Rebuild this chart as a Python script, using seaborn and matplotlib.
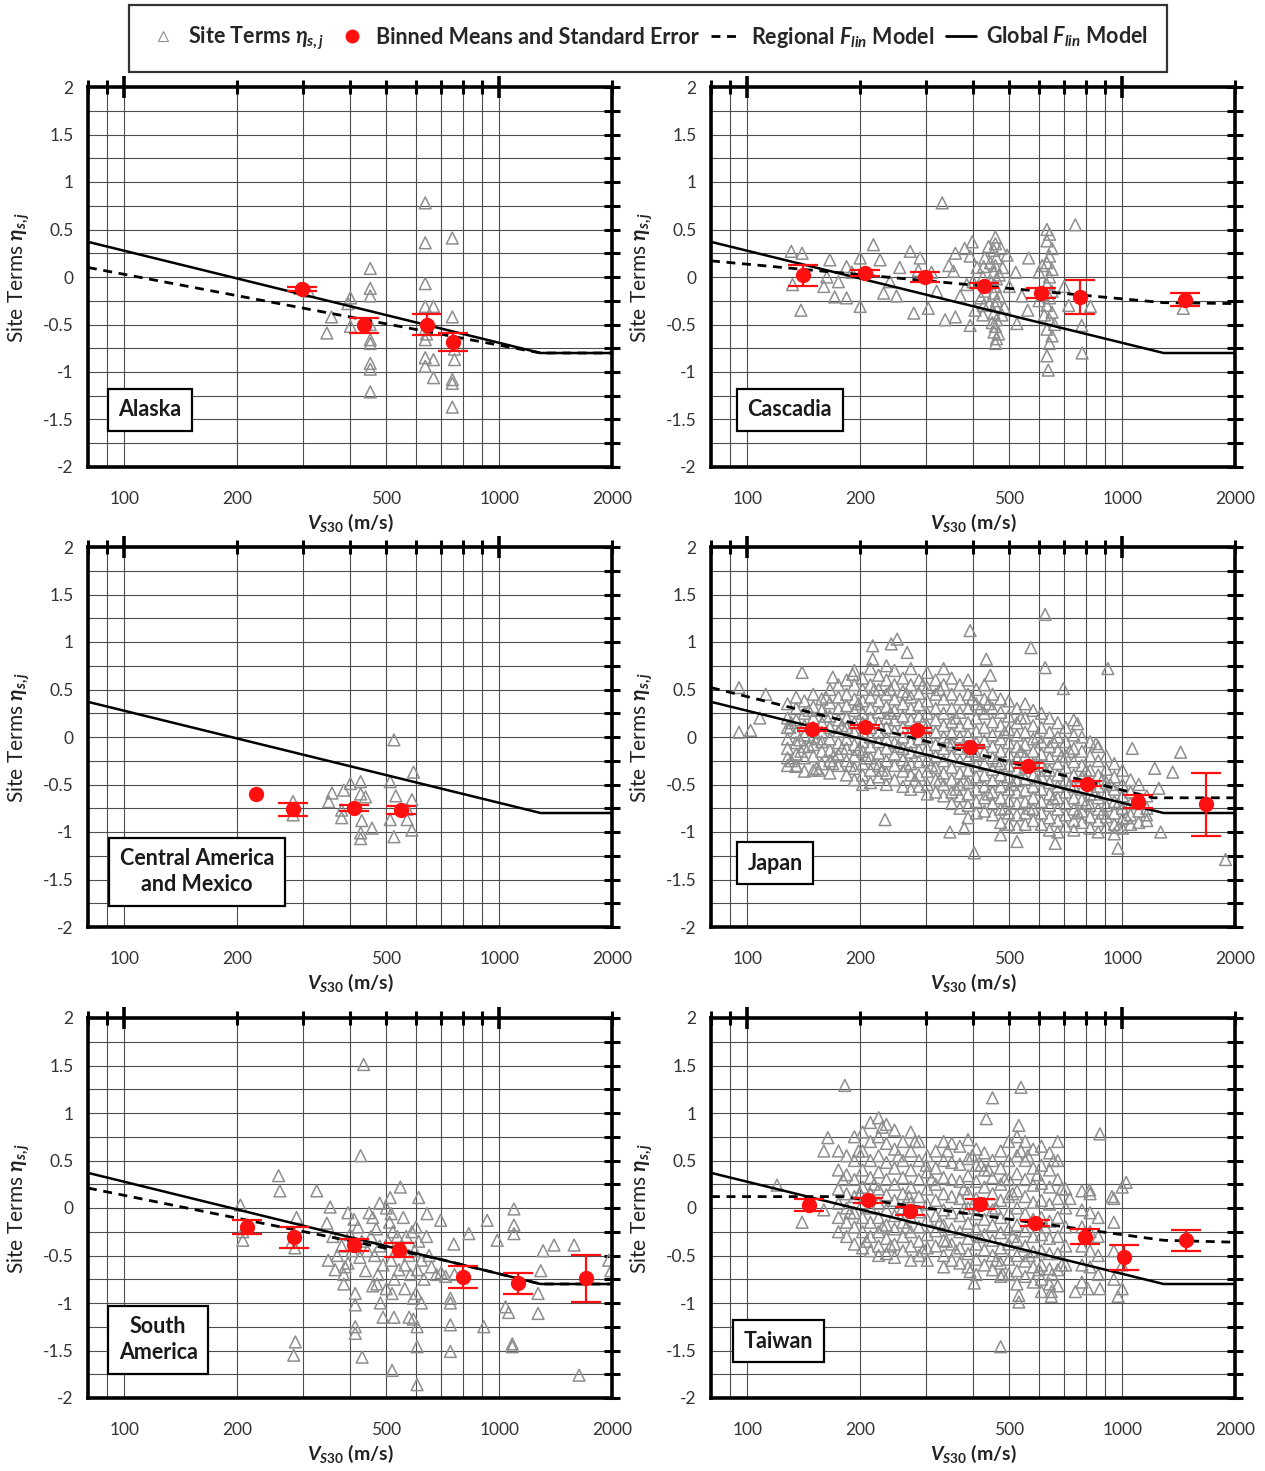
import numpy as np
import pandas as pd
import matplotlib
matplotlib.use("Agg")
import matplotlib.pyplot as plt
import seaborn as sns
from matplotlib.lines import Line2D

sns.set_theme(style="white")
plt.rcParams["font.family"] = ["Lato", "DejaVu Sans"]
plt.rcParams["mathtext.fontset"] = "custom"
plt.rcParams["mathtext.rm"] = "Lato:bold"
plt.rcParams["mathtext.it"] = "Lato:bold:italic"
plt.rcParams["mathtext.bf"] = "Lato:bold"
plt.rcParams["mathtext.fallback"] = "stixsans"
plt.rcParams["axes.unicode_minus"] = False

# ---------------------------------------------------------------- models
global_vs30 = [80, 1290, 2000]
global_flin = [0.37, -0.80, -0.80]

alaska_reg_vs30 = [80, 1290, 2000]
alaska_reg_flin = [0.10, -0.80, -0.80]
cascadia_reg_vs30 = [80, 1290, 2000]
cascadia_reg_flin = [0.17, -0.27, -0.28]
japan_reg_vs30 = [80, 1210, 2000]
japan_reg_flin = [0.52, -0.64, -0.64]
samerica_reg_vs30 = [80, 680, 1290, 2000]
samerica_reg_flin = [0.21, -0.53, -0.80, -0.80]
taiwan_reg_vs30 = [80, 180, 1290, 2000]
taiwan_reg_flin = [0.12, 0.12, -0.34, -0.36]

# ---------------------------------------------------------- binned means
alaska_bin_v = [298, 435, 641, 753]
alaska_bin_mean = [-0.13, -0.51, -0.50, -0.68]
alaska_bin_se = [0.02, 0.075, 0.115, 0.095]

cascadia_bin_v = [141, 206, 298, 427, 606, 771, 1470]
cascadia_bin_mean = [0.02, 0.04, 0.00, -0.09, -0.17, -0.21, -0.24]
cascadia_bin_se = [0.11, 0.03, 0.055, 0.03, 0.05, 0.18, 0.07]

camex_bin_v = [224, 281, 409, 546]
camex_bin_mean = [-0.60, -0.76, -0.75, -0.77]
camex_bin_se = [np.nan, 0.07, 0.03, 0.04]

japan_bin_v = [149, 206, 283, 392, 560, 805, 1105, 1676]
japan_bin_mean = [0.08, 0.11, 0.07, -0.10, -0.30, -0.49, -0.68, -0.71]
japan_bin_se = [0.02, 0.02, 0.025, 0.02, 0.025, 0.025, 0.065, 0.33]

samerica_bin_v = [213, 283, 409, 539, 800, 1122, 1708]
samerica_bin_mean = [-0.20, -0.31, -0.39, -0.44, -0.73, -0.79, -0.74]
samerica_bin_se = [0.075, 0.11, 0.06, 0.075, 0.115, 0.11, 0.25]

taiwan_bin_v = [146, 210, 272, 418, 587, 798, 1010, 1476]
taiwan_bin_mean = [0.03, 0.08, -0.03, 0.04, -0.16, -0.30, -0.52, -0.34]
taiwan_bin_se = [0.06, 0.03, 0.04, 0.05, 0.03, 0.08, 0.13, 0.11]

# ------------------------------------------------------------ site terms
alaska_sites = [(635, 0.78), (750, 0.41), (635, 0.36), (453, 0.09), (635, -0.07),
                (453, -0.12), (453, -0.20), (401, -0.22), (635, -0.31), (668, -0.31),
                (750, -0.42), (357, -0.42), (347, -0.59), (401, -0.52), (453, -0.66),
                (453, -0.70), (635, -0.66), (760, -0.76), (760, -0.87), (635, -0.85),
                (668, -0.87), (635, -0.94), (453, -0.91), (453, -0.97), (668, -1.06),
                (750, -1.08), (750, -1.12), (453, -1.21), (750, -1.37), (294, -0.12),
                (310, -0.15), (395, -0.28), (453, -0.50), (635, -0.55), (640, -0.60)]

cascadia_sites = [(131, 0.27), (140, 0.25), (132, -0.08), (139, -0.35), (166, 0.18),
                  (163, 0.00), (171, -0.21), (184, -0.22), (184, 0.11), (200, 0.20),
                  (217, 0.34), (226, 0.18), (231, -0.17), (200, -0.31), (272, 0.27),
                  (289, 0.20), (286, 0.07), (278, -0.38), (304, -0.33), (331, 0.78),
                  (359, 0.25), (355, 0.06), (359, -0.42), (337, -0.45), (398, 0.37),
                  (393, 0.22), (393, -0.51), (385, -0.08), (459, 0.42), (459, 0.35),
                  (455, 0.28), (462, 0.20), (459, 0.12), (455, 0.05), (462, -0.02),
                  (459, -0.10), (455, -0.17), (462, -0.25), (459, -0.30), (455, -0.38),
                  (462, -0.45), (459, -0.52), (455, -0.58), (462, -0.65), (459, -0.70),
                  (427, 0.11), (430, 0.20), (425, 0.00), (430, -0.15), (427, -0.30),
                  (425, -0.40), (420, -0.22), (493, 0.23), (485, -0.32), (524, -0.49),
                  (563, 0.20), (630, 0.50), (640, 0.45), (630, 0.38), (650, 0.30),
                  (640, 0.22), (630, 0.15), (650, 0.08), (640, 0.00), (630, -0.08),
                  (650, -0.15), (640, -0.22), (630, -0.30), (650, -0.37), (640, -0.45),
                  (630, -0.55), (650, -0.62), (640, -0.70), (630, -0.83), (635, -0.98),
                  (750, 0.55), (782, -0.80), (823, -0.31), (780, -0.51), (1455, -0.33),
                  (160, -0.10), (175, -0.05), (190, 0.05), (240, -0.05), (255, 0.10),
                  (250, -0.20), (310, 0.05), (320, -0.15), (345, 0.12), (370, -0.20),
                  (380, 0.30), (410, 0.10), (500, -0.10), (520, 0.05), (540, -0.20),
                  (560, -0.35), (600, 0.05), (600, -0.25), (700, -0.10), (720, -0.30),
                  (475, 0.30), (480, 0.10), (470, -0.20), (478, -0.40), (405, -0.35),
                  (400, -0.05), (445, 0.15), (448, -0.05), (442, -0.28), (450, -0.48),
                  (468, -0.60), (470, 0.02), (440, 0.32), (612, 0.12), (615, -0.18),
                  (620, -0.40), (660, -0.50)]

camex_sites = [(524, -0.03), (591, -0.37), (585, -0.66), (358, -0.59), (385, -0.56),
               (427, -0.47), (427, -0.60), (401, -0.49), (380, -0.77), (380, -0.85),
               (427, -1.01), (458, -0.96), (427, -1.07), (512, -0.47), (512, -0.87),
               (524, -1.05), (568, -0.87), (585, -0.98), (530, -0.62), (568, -0.76),
               (430, -0.88), (440, -0.63), (351, -0.68), (282, -0.68), (282, -0.82)]

samerica_sites = [(435, 1.51), (427, 0.55), (258, 0.34), (260, 0.18), (326, 0.18),
                  (354, 0.01), (204, 0.03), (288, -0.10), (347, -0.16), (207, -0.25),
                  (207, -0.34), (280, -0.36), (285, -0.42), (545, 0.22), (610, 0.11),
                  (642, -0.06), (698, -0.13), (512, 0.11), (515, -0.06), (757, -0.38),
                  (830, -0.27), (929, -0.13), (988, -0.34), (1095, -0.01), (1095, -0.18),
                  (1095, -0.27), (1401, -0.39), (1585, -0.39), (1310, -0.45), (1291, -0.66),
                  (1270, -0.90), (1270, -1.11), (1986, -0.66), (1960, -0.55), (1634, -1.76),
                  (1084, -1.43), (1084, -1.46), (741, -1.00), (741, -0.95), (741, -1.23),
                  (741, -1.51), (910, -1.25), (1040, -1.04), (1060, -1.10), (286, -1.41),
                  (283, -1.55), (413, -1.25), (413, -1.32), (431, -1.57), (518, -1.71),
                  (604, -1.86), (604, -1.46), (604, -1.25), (590, -1.17), (575, -1.15),
                  (524, -1.15), (490, -1.15), (482, -1.00), (518, -0.90), (472, -0.80),
                  (385, -0.80), (413, -0.90), (413, -1.02), (385, -0.70), (388, -0.62),
                  (395, -0.05), (410, -0.12), (420, -0.20), (400, -0.28), (430, -0.35),
                  (405, -0.45), (425, -0.52), (395, -0.58), (440, -0.66), (460, -0.10),
                  (470, -0.22), (455, -0.30), (480, -0.40), (465, -0.50), (490, -0.60),
                  (475, -0.70), (500, 0.00), (510, -0.15), (520, -0.25), (505, -0.35),
                  (530, -0.45), (515, -0.55), (540, -0.65), (525, -0.75), (555, -0.10),
                  (565, -0.30), (550, -0.40), (575, -0.50), (560, -0.60), (580, -0.70),
                  (600, -0.20), (610, -0.35), (595, -0.45), (620, -0.55), (605, -0.65),
                  (630, -0.75), (640, -0.30), (650, -0.50), (660, -0.62), (680, -0.70),
                  (700, -0.68), (720, -0.72), (760, -0.70), (600, -0.90), (560, -0.85),
                  (620, -1.00), (590, -0.95), (460, -0.82), (500, -0.85), (370, -0.50),
                  (380, -0.40), (360, -0.30), (365, -0.65), (350, -0.55), (450, -0.05),
                  (480, 0.05), (415, -0.40), (445, -0.45), (535, -0.30), (585, -0.25)]

japan_col_v = [128, 135, 142, 150, 158, 166, 175, 184, 193, 203, 213, 224, 235, 247, 260,
               273, 287, 302, 318, 334, 351, 369, 388, 408, 429, 451, 474, 498, 524, 551,
               579, 609, 640, 673, 707, 743, 781, 821, 863, 907, 953, 1002, 1053, 1107, 1163]
japan_col_eta = [
    [0.35, 0.2, 0.1, -0.02, -0.12, -0.22, -0.3],
    [0.42, 0.3, 0.18, 0.05, -0.06, -0.18, -0.3],
    [0.38, 0.25, 0.12, 0.02, -0.1, -0.22, -0.36],
    [0.45, 0.32, 0.2, 0.1, 0.0, -0.08, -0.2, -0.35],
    [0.4, 0.28, 0.15, 0.05, -0.05, -0.15, -0.28],
    [0.5, 0.36, 0.22, 0.1, -0.02, -0.14, -0.25, -0.38],
    [0.55, 0.42, 0.3, 0.18, 0.06, -0.06, -0.18, -0.3],
    [0.6, 0.45, 0.33, 0.2, 0.1, -0.02, -0.12, -0.25, -0.4],
    [0.7, 0.55, 0.4, 0.28, 0.15, 0.05, -0.08, -0.2, -0.33, -0.45],
    [0.62, 0.5, 0.38, 0.25, 0.15, 0.05, -0.05, -0.15, -0.28, -0.4, -0.5],
    [0.72, 0.55, 0.42, 0.3, 0.2, 0.1, 0.0, -0.1, -0.22, -0.35, -0.48],
    [0.65, 0.5, 0.38, 0.26, 0.15, 0.05, -0.05, -0.17, -0.3, -0.42],
    [0.75, 0.6, 0.45, 0.32, 0.2, 0.1, -0.02, -0.12, -0.25, -0.38, -0.5],
    [0.7, 0.55, 0.4, 0.28, 0.18, 0.06, -0.06, -0.18, -0.3, -0.45],
    [0.62, 0.48, 0.35, 0.22, 0.1, 0.0, -0.12, -0.24, -0.36, -0.52],
    [0.72, 0.55, 0.42, 0.3, 0.18, 0.06, -0.05, -0.16, -0.28, -0.4, -0.55],
    [0.6, 0.46, 0.34, 0.22, 0.1, -0.02, -0.14, -0.26, -0.4, -0.52],
    [0.68, 0.52, 0.38, 0.25, 0.12, 0.0, -0.12, -0.24, -0.36, -0.5, -0.6],
    [0.6, 0.45, 0.3, 0.18, 0.05, -0.08, -0.2, -0.32, -0.45, -0.58],
    [0.72, 0.55, 0.4, 0.25, 0.12, 0.0, -0.12, -0.25, -0.38, -0.5, -0.62],
    [0.62, 0.45, 0.3, 0.16, 0.04, -0.08, -0.2, -0.32, -0.45, -0.58, -0.7],
    [0.55, 0.4, 0.26, 0.12, 0.0, -0.12, -0.25, -0.38, -0.5, -0.62, -0.75],
    [0.6, 0.45, 0.3, 0.15, 0.02, -0.1, -0.22, -0.35, -0.48, -0.6, -0.72, -0.85],
    [0.5, 0.35, 0.2, 0.06, -0.06, -0.18, -0.3, -0.42, -0.55, -0.68, -0.8],
    [0.55, 0.4, 0.25, 0.1, -0.04, -0.16, -0.28, -0.4, -0.52, -0.64, -0.78],
    [0.45, 0.3, 0.16, 0.02, -0.1, -0.22, -0.34, -0.46, -0.58, -0.7, -0.82],
    [0.4, 0.26, 0.12, -0.02, -0.15, -0.28, -0.4, -0.52, -0.64, -0.76, -0.9],
    [0.38, 0.22, 0.08, -0.06, -0.18, -0.3, -0.42, -0.55, -0.67, -0.8, -0.92],
    [0.3, 0.15, 0.02, -0.1, -0.22, -0.34, -0.46, -0.58, -0.7, -0.82, -0.95],
    [0.35, 0.2, 0.05, -0.08, -0.2, -0.32, -0.44, -0.56, -0.68, -0.8, -0.92],
    [0.28, 0.12, -0.02, -0.15, -0.28, -0.4, -0.52, -0.64, -0.76, -0.88],
    [0.25, 0.1, -0.05, -0.18, -0.3, -0.42, -0.55, -0.68, -0.8, -0.92],
    [0.2, 0.05, -0.1, -0.22, -0.35, -0.48, -0.6, -0.72, -0.85, -0.98],
    [0.15, 0.0, -0.14, -0.28, -0.4, -0.52, -0.64, -0.76, -0.88, -1.0],
    [0.1, -0.05, -0.2, -0.32, -0.45, -0.58, -0.7, -0.82, -0.94],
    [0.18, 0.02, -0.12, -0.26, -0.4, -0.52, -0.64, -0.76, -0.88, -0.98],
    [0.0, -0.15, -0.3, -0.42, -0.55, -0.66, -0.78, -0.9],
    [-0.05, -0.2, -0.35, -0.48, -0.6, -0.72, -0.84, -0.96],
    [-0.1, -0.25, -0.4, -0.52, -0.64, -0.76, -0.88, -1.0],
    [-0.2, -0.34, -0.48, -0.6, -0.72, -0.84, -0.95],
    [-0.28, -0.42, -0.55, -0.68, -0.8, -0.92, -1.02],
    [-0.35, -0.5, -0.62, -0.75, -0.86, -0.96],
    [-0.45, -0.58, -0.7, -0.82, -0.92],
    [-0.5, -0.65, -0.78, -0.9],
    [-0.62, -0.75, -0.88],
]
japan_sites = [(95, 0.52), (95, 0.05), (102, 0.07), (112, 0.45), (108, 0.20), (140, 0.68),
               (169, 0.63), (191, 0.66), (216, 0.96), (242, 0.98), (251, 1.03), (267, 0.89),
               (216, 0.82), (393, 1.12), (434, 0.82), (445, 0.65), (571, 0.94), (623, 1.29),
               (623, 0.73), (697, 0.51), (916, 0.72), (1064, -0.12), (1221, -0.33),
               (1364, -0.37), (1432, -0.16), (1253, -0.54), (1267, -1.00), (1161, -0.82),
               (1887, -1.29), (975, -1.17), (663, -1.12), (524, -1.10), (403, -1.22),
               (379, -0.96), (347, -1.00), (233, -0.87), (135, -0.31), (153, -0.33),
               (155, -0.35), (169, -0.28), (138, -0.03), (130, 0.10), (851, -0.07),
               (760, 0.14), (474, -1.03),
               (131, 0.15), (139, -0.15), (146, 0.28), (154, -0.02), (162, 0.22),
               (170, -0.20), (179, 0.12), (188, -0.30), (198, 0.35), (208, -0.22),
               (218, 0.50), (229, -0.35), (241, 0.25), (253, -0.10), (266, 0.45),
               (280, -0.45), (294, 0.15), (310, -0.30), (326, 0.50), (342, -0.05),
               (360, 0.20), (378, -0.45), (398, -0.15), (418, 0.30), (440, -0.60),
               (462, -0.25), (486, 0.05), (511, -0.50), (537, -0.15), (565, -0.75),
               (594, 0.00), (624, -0.35), (656, -0.65), (690, -0.20), (725, -0.50),
               (762, -0.80), (801, -0.35), (842, -0.60), (885, -0.80), (930, -0.50),
               (977, -0.70), (1027, -0.85), (1080, -0.70), (131, -0.25), (146, -0.10),
               (162, 0.42), (179, -0.12), (198, -0.13), (218, -0.28), (241, 0.50),
               (266, -0.30), (294, 0.55), (326, -0.45), (360, -0.55), (398, 0.40),
               (440, 0.35), (486, -0.75), (537, 0.20), (594, -0.45), (656, -0.05),
               (725, -0.15), (801, -0.70), (885, -0.45), (977, -0.95)]

taiwan_col_v = [175, 184, 193, 203, 213, 224, 235, 247, 260, 273, 287, 302, 318, 334, 351,
                369, 388, 408, 429, 451, 474, 498, 524, 551, 579, 609, 640, 673, 707, 781,
                821, 863, 950, 1000]
taiwan_col_eta = [
    [0.6, 0.4, 0.2, 0.05, -0.1, -0.25],
    [0.55, 0.35, 0.15, 0.0, -0.15, -0.3],
    [0.75, 0.5, 0.3, 0.12, -0.05, -0.2, -0.38],
    [0.8, 0.6, 0.4, 0.22, 0.05, -0.1, -0.25, -0.42],
    [0.9, 0.7, 0.5, 0.32, 0.15, 0.0, -0.15, -0.3, -0.45],
    [0.95, 0.75, 0.55, 0.38, 0.2, 0.05, -0.1, -0.25, -0.4, -0.5],
    [0.88, 0.68, 0.48, 0.3, 0.14, -0.02, -0.18, -0.32, -0.48],
    [0.82, 0.62, 0.42, 0.25, 0.08, -0.08, -0.22, -0.38, -0.52],
    [0.7, 0.5, 0.32, 0.15, 0.0, -0.15, -0.3, -0.45],
    [0.8, 0.6, 0.4, 0.22, 0.05, -0.1, -0.25, -0.4, -0.55],
    [0.7, 0.5, 0.3, 0.12, -0.04, -0.2, -0.35, -0.5],
    [0.55, 0.38, 0.2, 0.04, -0.12, -0.28, -0.42, -0.55],
    [0.6, 0.42, 0.25, 0.08, -0.08, -0.24, -0.4],
    [0.7, 0.5, 0.32, 0.15, -0.02, -0.18, -0.34, -0.5, -0.62],
    [0.68, 0.48, 0.3, 0.12, -0.05, -0.22, -0.38, -0.55],
    [0.65, 0.46, 0.28, 0.1, -0.08, -0.25, -0.42, -0.58],
    [0.72, 0.52, 0.34, 0.16, 0.0, -0.16, -0.32, -0.48, -0.62],
    [0.62, 0.45, 0.28, 0.1, -0.06, -0.22, -0.38, -0.54, -0.7],
    [0.58, 0.4, 0.22, 0.05, -0.12, -0.28, -0.44, -0.6],
    [0.5, 0.32, 0.15, -0.02, -0.18, -0.34, -0.5, -0.65],
    [0.6, 0.42, 0.25, 0.08, -0.1, -0.26, -0.42, -0.58, -0.72],
    [0.7, 0.5, 0.3, 0.12, -0.05, -0.22, -0.38, -0.54, -0.7],
    [0.75, 0.55, 0.36, 0.18, 0.0, -0.18, -0.34, -0.5, -0.66, -0.8],
    [0.7, 0.5, 0.3, 0.12, -0.06, -0.24, -0.4, -0.56, -0.72],
    [0.62, 0.42, 0.24, 0.06, -0.12, -0.3, -0.46, -0.62, -0.78],
    [0.65, 0.45, 0.26, 0.08, -0.1, -0.28, -0.45, -0.6, -0.75, -0.88],
    [0.58, 0.4, 0.22, 0.04, -0.14, -0.32, -0.48, -0.64, -0.8],
    [0.7, 0.5, 0.3, 0.1, -0.1, -0.3, -0.48, -0.65, -0.82],
    [0.2, 0.0, -0.2, -0.4, -0.6],
    [0.18, -0.02, -0.2, -0.4, -0.6, -0.78],
    [0.15, -0.05, -0.25, -0.45, -0.62],
    [-0.1, -0.3, -0.5, -0.7],
    [0.1, -0.15, -0.45, -0.75],
    [0.22, -0.6, -0.85],
]
taiwan_sites = [(182, 1.29), (160, 0.60), (164, 0.74), (140, -0.15), (160, -0.02),
                (120, 0.24), (451, 1.16), (434, 0.94), (537, 1.27), (530, 0.87),
                (872, 0.78), (819, 0.19), (939, 0.12), (1025, 0.27), (474, -1.46),
                (530, -0.99), (530, -0.92), (975, -0.93), (872, -0.85), (810, -0.85),
                (750, -0.88), (647, -0.88), (647, -0.93), (393, -0.67), (403, -0.79),
                (480, -0.70),
                (180, 0.30), (188, -0.05), (198, 0.60), (208, -0.35), (218, 0.25),
                (229, 0.85), (241, -0.40), (253, 0.55), (266, -0.20), (280, 0.70),
                (294, -0.45), (310, 0.30), (326, -0.15), (342, 0.60), (360, -0.45),
                (378, 0.20), (398, 0.55), (418, -0.30), (440, 0.40), (462, -0.55),
                (486, 0.30), (511, -0.30), (537, 0.60), (565, -0.50), (594, 0.35),
                (624, -0.20), (656, 0.50), (690, -0.60), (725, 0.10), (200, 0.15),
                (230, -0.20), (270, 0.12), (300, 0.45), (340, -0.35), (380, 0.00),
                (420, 0.45), (460, 0.00), (510, 0.15), (560, 0.55), (600, -0.65),
                (650, -0.70), (690, 0.20)]

# ------------------------------------------------------------- axis text
x_major_ticks = [100, 1000]
x_major_labels = ["100", "1000"]
x_minor_ticks = [80, 90, 200, 300, 400, 500, 600, 700, 800, 900, 2000]
x_minor_labels = ["", "", "200", "", "", "500", "", "", "", "", "2000"]
y_major_ticks = [2, 1.5, 1, 0.5, 0, -0.5, -1, -1.5, -2]
y_major_labels = ["2", "1.5", "1", "0.5", "0", "-0.5", "-1", "-1.5", "-2"]
y_minor_ticks = [1.75, 1.25, 0.75, 0.25, -0.25, -0.75, -1.25, -1.75]

region_names = ["Alaska", "Cascadia", "Central America\nand Mexico", "Japan",
                "South\nAmerica", "Taiwan"]


def expand_columns(col_v, col_eta, extra):
    v = [vv for vv, etas in zip(col_v, col_eta) for _ in etas]
    e = [ee for etas in col_eta for ee in etas]
    v += [p[0] for p in extra]
    e += [p[1] for p in extra]
    return pd.DataFrame({"vs30": v, "eta": e})


def pairs_frame(pairs):
    return pd.DataFrame({"vs30": [p[0] for p in pairs], "eta": [p[1] for p in pairs]})


panels = [
    dict(sites=pairs_frame(alaska_sites), reg=(alaska_reg_vs30, alaska_reg_flin),
         bins=(alaska_bin_v, alaska_bin_mean, alaska_bin_se), label_xy=(0.118, 0.15)),
    dict(sites=pairs_frame(cascadia_sites), reg=(cascadia_reg_vs30, cascadia_reg_flin),
         bins=(cascadia_bin_v, cascadia_bin_mean, cascadia_bin_se), label_xy=(0.15, 0.15)),
    dict(sites=pairs_frame(camex_sites), reg=None,
         bins=(camex_bin_v, camex_bin_mean, camex_bin_se), label_xy=(0.208, 0.145)),
    dict(sites=expand_columns(japan_col_v, japan_col_eta, japan_sites),
         reg=(japan_reg_vs30, japan_reg_flin),
         bins=(japan_bin_v, japan_bin_mean, japan_bin_se), label_xy=(0.122, 0.168)),
    dict(sites=pairs_frame(samerica_sites), reg=(samerica_reg_vs30, samerica_reg_flin),
         bins=(samerica_bin_v, samerica_bin_mean, samerica_bin_se), label_xy=(0.134, 0.153)),
    dict(sites=expand_columns(taiwan_col_v, taiwan_col_eta, taiwan_sites),
         reg=(taiwan_reg_vs30, taiwan_reg_flin),
         bins=(taiwan_bin_v, taiwan_bin_mean, taiwan_bin_se), label_xy=(0.128, 0.15)),
]

W, H = 1265, 1471
fig = plt.figure(figsize=(W / 100, H / 100), dpi=100)

col_left = [88, 711]
ax_w = 524
row_bottom = [467, 927, 1398]
ax_h = 380

tri_color = "#8e8e8e"
dash_style = (0, (3.2, 2.4))

for i, p in enumerate(panels):
    r, c = divmod(i, 2)
    ax = fig.add_axes([col_left[c] / W, 1 - row_bottom[r] / H, ax_w / W, ax_h / H])
    ax.set_xscale("log")

    sns.scatterplot(data=p["sites"], x="vs30", y="eta", ax=ax, marker="^", s=72,
                    facecolor="none", edgecolor=tri_color, linewidth=1.1, zorder=2,
                    legend=False)

    if p["reg"] is not None:
        sns.lineplot(x=p["reg"][0], y=p["reg"][1], ax=ax, color="black", lw=2.0,
                     linestyle=dash_style, estimator=None, sort=False, zorder=3)
    sns.lineplot(x=global_vs30, y=global_flin, ax=ax, color="black", lw=1.8,
                 estimator=None, sort=False, zorder=3)

    bv, bm, bse = p["bins"]
    ax.errorbar(bv, bm, yerr=bse, fmt="o", color="#ff1010", ms=10, elinewidth=1.6,
                capsize=11, capthick=1.6, zorder=5)

    ax.set_xlim(80, 2000)
    ax.set_ylim(-2, 2)
    ax.set_xticks(x_major_ticks, labels=x_major_labels)
    ax.set_xticks(x_minor_ticks, labels=x_minor_labels, minor=True)
    ax.set_yticks(y_major_ticks, labels=y_major_labels)
    ax.set_yticks(y_minor_ticks, minor=True)

    ax.tick_params(axis="both", which="both", direction="inout", top=True, right=True,
                   labelsize=12.5, labelcolor="#333333", color="black")
    ax.tick_params(axis="x", which="major", length=16, width=2.6, pad=9)
    ax.tick_params(axis="x", which="minor", length=10, width=2.2, pad=12)
    ax.tick_params(axis="y", which="both", length=11, width=2.2, pad=5)

    ax.grid(True, which="both", axis="both", color="#4d4d4d", linewidth=0.8)
    ax.set_axisbelow(True)
    for s in ax.spines.values():
        s.set_linewidth(2.6)
        s.set_color("black")

    ax.set_xlabel("$V_{S30}$ (m/s)", fontsize=14, fontweight="bold", labelpad=4,
                  color="#222222")
    ax.set_ylabel("Site Terms $\\eta_{s,j}$", fontsize=15, labelpad=8, color="#222222")

    ax.text(p["label_xy"][0], p["label_xy"][1], region_names[i], transform=ax.transAxes,
            ha="center", va="center", fontsize=15.5, fontweight="bold", color="#1a1a1a",
            linespacing=1.3, zorder=6,
            bbox=dict(boxstyle="square,pad=0.5", fc="white", ec="black", lw=1.6))

handles = [
    Line2D([], [], marker="^", ls="none", mfc="none", mec=tri_color, ms=7, mew=0.8),
    Line2D([], [], marker="o", ls="none", color="#ff1010", ms=9),
    Line2D([], [], color="black", lw=2.0, ls=dash_style),
    Line2D([], [], color="black", lw=2.0),
]
labels = ["Site Terms $\\eta_{s,j}$", "Binned Means and Standard Error",
          "Regional $F_{lin}$ Model", "Global $F_{lin}$ Model"]
leg = fig.legend(handles, labels, loc="center", bbox_to_anchor=(648 / W, 1 - 38.5 / H),
                 ncol=4, frameon=True, fancybox=False, edgecolor="black",
                 prop={"weight": "bold", "size": 15.5}, handlelength=1.4,
                 handletextpad=0.45, columnspacing=0.55, borderpad=0.9)
leg.get_frame().set_linewidth(1.6)

fig.savefig("out.png", dpi=100)
